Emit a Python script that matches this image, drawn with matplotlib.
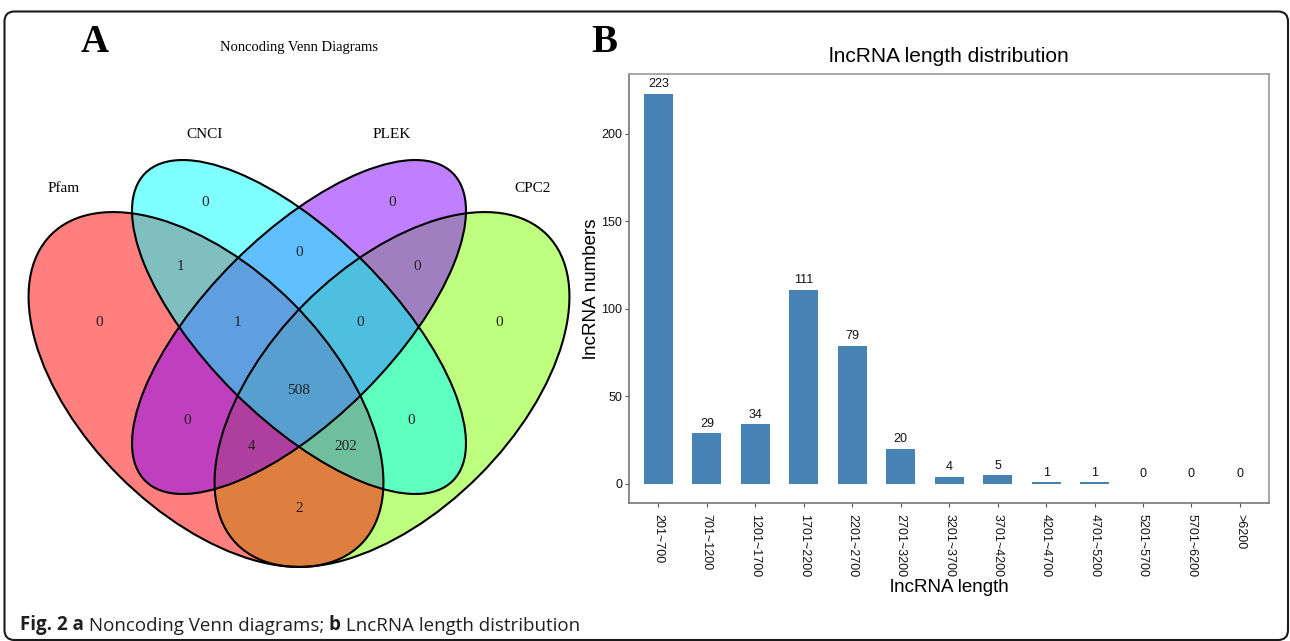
import matplotlib
matplotlib.use("Agg")
import matplotlib.pyplot as plt
from matplotlib.patches import Ellipse, FancyBboxPatch
import numpy as np

W, H = 1290, 641

# --- panel B data
length_bins = ['201~700', '701~1200', '1201~1700', '1701~2200', '2201~2700', '2701~3200',
               '3201~3700', '3701~4200', '4201~4700', '4701~5200', '5201~5700', '5701~6200', '>6200']
lnc_counts = [223, 29, 34, 111, 79, 20, 4, 5, 1, 1, 0, 0, 0]

# --- panel A data (venn region counts)
venn_sets = ['Pfam', 'CNCI', 'PLEK', 'CPC2']
venn_regions = ['Pfam', 'CNCI', 'PLEK', 'CPC2',
                'Pfam&CNCI', 'CNCI&PLEK', 'PLEK&CPC2', 'Pfam&PLEK', 'CNCI&CPC2', 'Pfam&CPC2',
                'Pfam&CNCI&PLEK', 'CNCI&PLEK&CPC2', 'Pfam&PLEK&CPC2', 'Pfam&CNCI&CPC2',
                'Pfam&CNCI&PLEK&CPC2']
venn_counts = [0, 0, 0, 0,
               1, 0, 0, 0, 0, 2,
               1, 0, 4, 202,
               508]

# layout of the venn (pixels, y down)
ellipse_geom = {
    'Pfam': ((206, 389.5), 219, 122.5, 45),
    'CNCI': ((299, 327), 217.5, 92, 45),
    'PLEK': ((299, 327), 217.5, 92, -45),
    'CPC2': ((392, 389.5), 219, 122.5, -45),
}
ellipse_color = {'Pfam': '#FF0000', 'CNCI': '#00FFFF', 'PLEK': '#8000FF', 'CPC2': '#80FF00'}
fill_order = ['CPC2', 'Pfam', 'PLEK', 'CNCI']
set_label_xy = {'Pfam': (64, 189), 'CNCI': (205, 135), 'PLEK': (392, 135), 'CPC2': (533, 189)}
region_xy = [(99, 322), (205, 203), (392, 203), (499, 322),
             (180, 266), (299, 253), (417, 266), (187, 421), (411, 421), (299, 508),
             (237, 322), (360, 322), (252, 446), (346, 446),
             (299, 390)]

fig = plt.figure(figsize=(W / 100, H / 100), dpi=100)
bg = fig.add_axes([0, 0, 1, 1])
bg.set_xlim(0, W)
bg.set_ylim(H, 0)
bg.axis('off')

# rounded frame
bg.add_patch(FancyBboxPatch((4.5, 11.5), 1283.5, 628.5, boxstyle="round,pad=0,rounding_size=10",
                            fill=False, edgecolor='#1a1a1a', lw=1.5))

# venn fills, then outlines
for name in fill_order:
    c, a, b, ang = ellipse_geom[name]
    bg.add_patch(Ellipse(c, 2 * a, 2 * b, angle=ang, facecolor=ellipse_color[name],
                         alpha=0.5, edgecolor='none'))
for name in venn_sets:
    c, a, b, ang = ellipse_geom[name]
    bg.add_patch(Ellipse(c, 2 * a, 2 * b, angle=ang, fill=False, edgecolor='black', lw=1.5))

serif = 'Liberation Serif'
for name in venn_sets:
    bg.text(*set_label_xy[name], name, family=serif, fontsize=11, ha='center', va='center')
for (x, y), v in zip(region_xy, venn_counts):
    bg.text(x, y, str(v), family=serif, fontsize=11, ha='center', va='center', color='#222222')
bg.text(299, 48, 'Noncoding Venn Diagrams', family=serif, fontsize=10.5, ha='center', va='center')
bg.text(95, 43, 'A', family=serif, fontsize=28, weight='bold', ha='center', va='center')
bg.text(604, 43, 'B', family=serif, fontsize=28, weight='bold', ha='center', va='center')

# --- panel B
sans = 'Liberation Sans'
ax = fig.add_axes([629.3 / W, 1 - 503.3 / H, (1269 - 629.3) / W, (503.3 - 74) / H])
x = np.arange(len(lnc_counts))
ax.bar(x, lnc_counts, width=0.6, color='#4682B4')
for xi, v in zip(x, lnc_counts):
    ax.annotate(str(v), (xi, v), xytext=(0, 2.5), textcoords='offset points',
                ha='center', va='bottom', fontsize=9, family=sans, color='#111111')
ax.set_xlim(-0.6, len(lnc_counts) - 0.4)
ax.set_ylim(-0.05 * max(lnc_counts), 1.05 * max(lnc_counts))
ax.set_xticks(x)
ax.set_xticklabels(length_bins, rotation=270, fontsize=9, family=sans)
ax.set_yticks([0, 50, 100, 150, 200])
ax.set_yticklabels(['0', '50', '100', '150', '200'], fontsize=9, family=sans)
ax.tick_params(axis='y', length=3, pad=2, color='#555555', labelcolor='#111111')
ax.tick_params(axis='x', length=3, pad=4.7, color='#555555', labelcolor='#111111')
for s in ax.spines.values():
    s.set_color('#999999')
    s.set_linewidth(1.2)
ax.spines['left'].set_color('#777777')
ax.spines['bottom'].set_color('#777777')
ax.set_title('lncRNA length distribution', fontsize=15, family=sans, pad=9)
ax.set_xlabel('lncRNA length', fontsize=13.5, family=sans)
ax.set_ylabel('lncRNA numbers', fontsize=13.5, family=sans)
ax.xaxis.label.set_va('center')
ax.yaxis.label.set_va('center')
ax.xaxis.set_label_coords(0.5, (503.3 - 588) / 429.3)
ax.yaxis.set_label_coords((592 - 629.3) / 639.7, 0.5)

# --- caption, bold/regular pieces chained
cap_font = 'Open Sans'
pieces = [('Fig. 2 a', 'bold'), (' Noncoding Venn diagrams; ', 'normal'),
          ('b', 'bold'), (' LncRNA length distribution', 'normal')]
prev = bg.text(20, 630, pieces[0][0], family=cap_font, fontsize=13.5, weight=pieces[0][1],
               ha='left', va='baseline', color='#231f20')
for txt, wt in pieces[1:]:
    prev = bg.annotate(txt, xy=(1, 0), xycoords=prev, ha='left', va='bottom',
                       family=cap_font, fontsize=13.5, weight=wt, color='#231f20')

fig.savefig('out.png', dpi=100)
